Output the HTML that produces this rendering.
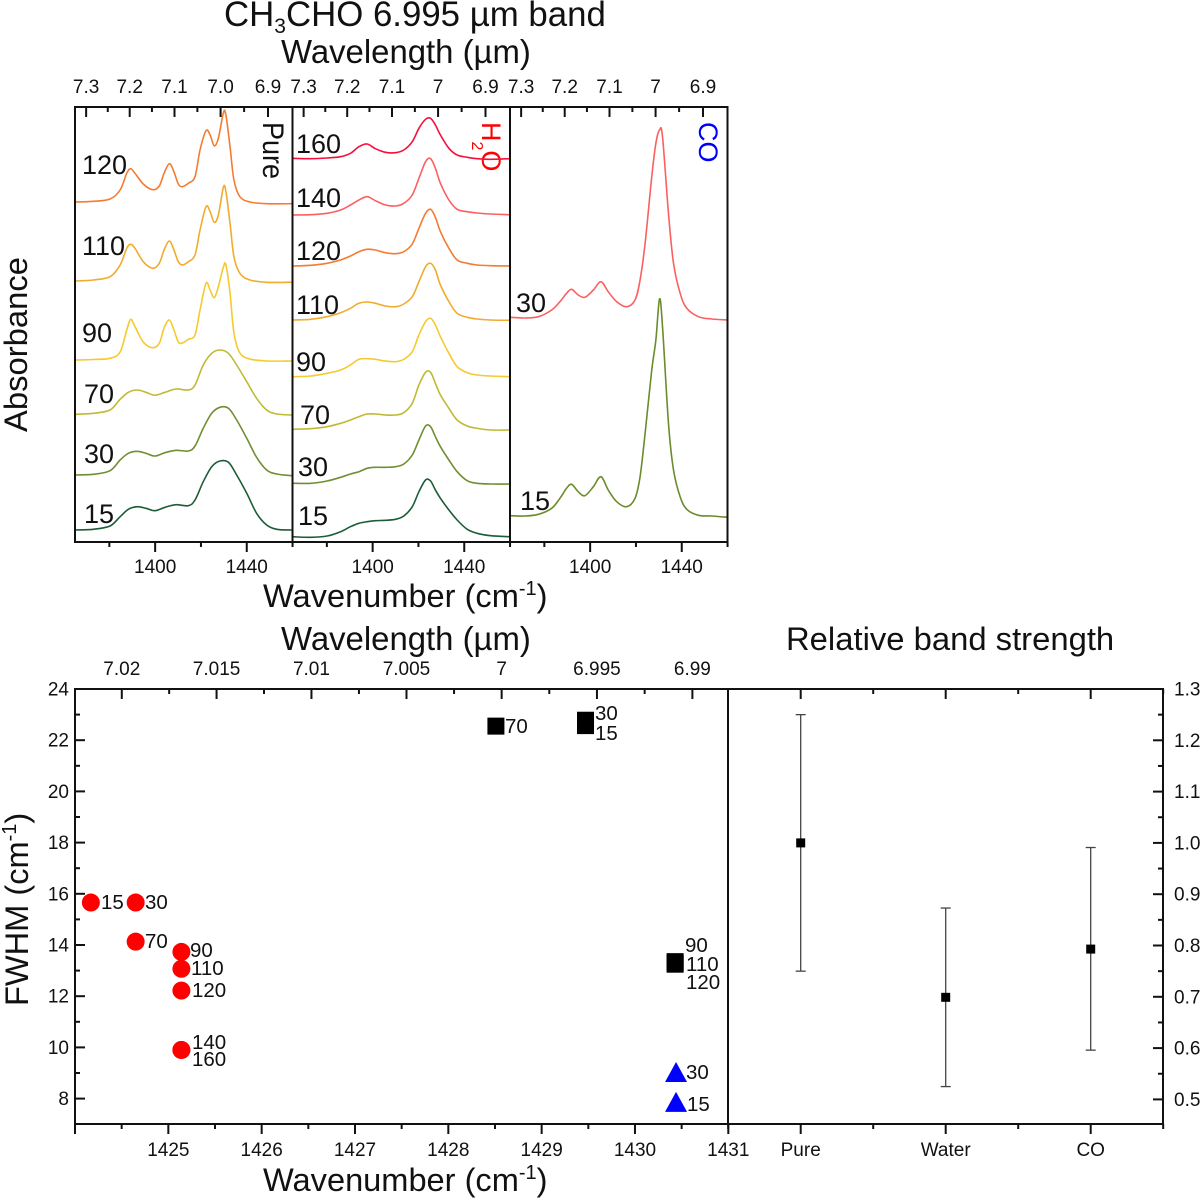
<!DOCTYPE html>
<html lang="en">
<head>
<meta charset="utf-8">
<title>CH3CHO 6.995 µm band</title>
<style>
html,body{margin:0;padding:0;background:#fff;}
svg{display:block;font-family:"Liberation Sans",sans-serif;fill:#111;}
text{fill:#111;}
</style>
</head>
<body>
<svg id="fig" xmlns="http://www.w3.org/2000/svg" width="1200" height="1198" viewBox="0 0 1200 1198">
  <rect x="0" y="0" width="1200" height="1198" fill="#fff"/>
  <text x="224" y="26" font-size="34.8">CH<tspan font-size="21" dy="7">3</tspan><tspan dy="-7">CHO 6.995 µm band</tspan></text>
  <text x="281" y="63" font-size="32.9">Wavelength (µm)</text>
  <text x="263" y="607" font-size="32.6">Wavenumber (cm<tspan font-size="20" dy="-12">-1</tspan><tspan dy="12">)</tspan></text>
  <text transform="translate(27,432) rotate(-90)" font-size="32.8">Absorbance</text>
  <text x="281" y="650" font-size="32.9">Wavelength (µm)</text>
  <text x="786" y="650" font-size="32.8">Relative band strength</text>
  <text x="263" y="1191" font-size="32.6">Wavenumber (cm<tspan font-size="20" dy="-12">-1</tspan><tspan dy="12">)</tspan></text>
  <text transform="translate(28,1006) rotate(-90)" font-size="32.6">FWHM (cm<tspan font-size="20" dy="-12">-1</tspan><tspan dy="12">)</tspan></text>

  <text transform="translate(263,122) rotate(90) scale(1,1.1)" font-size="27">Pure</text>
  <text transform="translate(482,122) rotate(90)" font-size="27" style="fill:#ff0000">H<tspan font-size="16" dy="10">2</tspan><tspan dy="-10">O</tspan></text>
  <text transform="translate(699,122) rotate(90)" font-size="27" style="fill:#0000ff">CO</text>

  <g font-size="27">
    <text x="82" y="174">120</text>
    <text x="82" y="255">110</text>
    <text x="82" y="342">90</text>
    <text x="84" y="403">70</text>
    <text x="84" y="463">30</text>
    <text x="84" y="523">15</text>
  </g>
  <g font-size="27">
    <text x="296" y="153">160</text>
    <text x="296" y="207">140</text>
    <text x="296" y="260">120</text>
    <text x="296" y="314">110</text>
    <text x="296" y="371">90</text>
    <text x="300" y="424">70</text>
    <text x="298" y="476">30</text>
    <text x="298" y="525">15</text>
  </g>
  <g font-size="27">
    <text x="516" y="312">30</text>
    <text x="520" y="510">15</text>
  </g>

  <g font-size="20.5">
    <text x="101" y="909">15</text>
    <text x="145" y="909">30</text>
    <text x="145" y="948">70</text>
    <text x="190" y="957">90</text>
    <text x="191" y="975">110</text>
    <text x="192" y="997">120</text>
    <text x="192" y="1049">140</text>
    <text x="192" y="1066">160</text>
    <text x="505" y="733">70</text>
    <text x="595" y="720">30</text>
    <text x="595" y="740">15</text>
    <text x="685" y="952">90</text>
    <text x="686" y="971">110</text>
    <text x="686" y="989">120</text>
    <text x="686" y="1079">30</text>
    <text x="687" y="1111">15</text>
  </g>
</svg>
<script>
// ---- spectra: shared wavenumber grids (cm-1) ----
const gridPureSharp = [1365,1373,1380.3,1384.7,1387.6,1389.3,1391.2,1394.8,1398.9,1401.8,1403.9,1406.2,1408.2,1410.1,1411.9,1414.5,1417.4,1419.6,1422.2,1424,1425.8,1427.6,1429.8,1430.9,1432.7,1434.4,1437,1441.4,1448.7,1459.6];
const gridPureBroad = [1365,1373,1380.3,1384.7,1388.3,1392.2,1396,1399.9,1404.3,1409.1,1414.5,1417.4,1421,1424.7,1428.3,1432,1435.6,1440,1444.3,1448.7,1453.1,1459.6];
const gridWater = [1365,1372.9,1380.1,1386,1390.3,1394,1397.6,1401.2,1405.6,1410,1413.6,1417.3,1420.2,1423.1,1425.3,1427.4,1429.6,1433.3,1436.9,1441.3,1445.6,1451.5,1459.8];
const gridCO = [1365,1371.6,1377.4,1383.2,1386.8,1389.7,1391.9,1394.8,1397.7,1401.4,1404.7,1407.9,1411.6,1415.9,1419.6,1421.8,1424,1426.9,1428.7,1430.3,1431.6,1434.2,1436.4,1439.3,1442.2,1447.3,1453.1,1460];

// ---- spectra: absorbance (arbitrary units, stacked with offset) ----
const pure120 = [3.40,3.407,3.43,3.52,3.687,3.733,3.687,3.58,3.523,3.56,3.687,3.783,3.703,3.58,3.553,3.587,3.653,3.92,4.113,4.07,3.963,4.037,4.293,4.27,3.953,3.62,3.453,3.40,3.383,3.383];
const pure110 = [2.61,2.62,2.653,2.77,2.937,2.977,2.937,2.803,2.737,2.787,2.92,3.01,2.92,2.803,2.77,2.803,2.87,3.12,3.353,3.303,3.197,3.27,3.547,3.503,3.187,2.853,2.687,2.62,2.597,2.597];
const pure90 = [1.82,1.825,1.837,1.90,2.12,2.227,2.153,2.00,1.943,1.987,2.14,2.22,2.12,2.0,1.99,2.027,2.07,2.32,2.587,2.52,2.443,2.553,2.75,2.77,2.49,2.09,1.89,1.83,1.81,1.81];
const pure70 = [1.277,1.287,1.32,1.427,1.497,1.52,1.497,1.467,1.497,1.53,1.52,1.57,1.77,1.887,1.92,1.887,1.77,1.603,1.437,1.32,1.28,1.27];
const pure30 = [0.67,0.677,0.713,0.82,0.887,0.907,0.887,0.86,0.893,0.917,0.91,0.96,1.137,1.287,1.347,1.337,1.22,1.037,0.847,0.72,0.68,0.663];
const pure15 = [0.12,0.127,0.16,0.253,0.327,0.353,0.337,0.313,0.347,0.373,0.363,0.42,0.603,0.753,0.81,0.797,0.67,0.487,0.287,0.17,0.127,0.12];

const water160 = [3.837,3.833,3.84,3.853,3.887,3.953,3.98,3.933,3.897,3.893,3.92,4.003,4.137,4.227,4.237,4.17,4.07,3.937,3.87,3.847,3.833,3.827,3.833];
const water140 = [3.27,3.273,3.287,3.32,3.37,3.42,3.453,3.413,3.37,3.36,3.387,3.47,3.637,3.803,3.833,3.737,3.587,3.42,3.327,3.303,3.29,3.28,3.273];
const water120 = [2.76,2.767,2.787,2.82,2.86,2.903,2.927,2.92,2.893,2.883,2.903,2.98,3.137,3.287,3.327,3.247,3.103,2.937,2.82,2.787,2.77,2.763,2.76];
const water110 = [2.22,2.227,2.253,2.293,2.337,2.387,2.40,2.387,2.36,2.353,2.38,2.453,2.603,2.753,2.787,2.72,2.57,2.403,2.287,2.247,2.23,2.22,2.217];
const water90 = [1.653,1.66,1.687,1.72,1.77,1.827,1.833,1.827,1.81,1.803,1.827,1.903,2.07,2.203,2.237,2.17,2.053,1.887,1.753,1.693,1.67,1.66,1.653];
const water70 = [1.127,1.133,1.153,1.187,1.22,1.253,1.28,1.28,1.27,1.27,1.293,1.387,1.57,1.697,1.697,1.587,1.47,1.337,1.22,1.16,1.137,1.12,1.12];
const water30 = [0.587,0.587,0.61,0.647,0.68,0.703,0.737,0.747,0.747,0.753,0.78,0.87,1.02,1.16,1.153,1.053,0.953,0.82,0.703,0.613,0.587,0.58,0.58];
const water15 = [0.053,0.047,0.06,0.103,0.153,0.187,0.203,0.213,0.217,0.227,0.26,0.353,0.503,0.62,0.61,0.52,0.437,0.32,0.22,0.127,0.087,0.063,0.053];

const co30 = [2.247,2.24,2.253,2.32,2.403,2.487,2.527,2.47,2.447,2.52,2.603,2.503,2.403,2.353,2.42,2.62,2.987,3.653,3.987,4.12,4.053,3.287,2.787,2.487,2.337,2.253,2.23,2.22];
const co15 = [0.263,0.26,0.277,0.337,0.437,0.537,0.577,0.503,0.463,0.553,0.653,0.52,0.403,0.353,0.437,0.653,1.087,1.72,2.02,2.43,2.153,1.187,0.72,0.453,0.327,0.267,0.26,0.247];

// ---- FWHM scatter ----
const redWavenumber = [1424.17,1424.65,1424.65,1425.14,1425.14,1425.14,1425.14,1425.14];
const redFwhm = [15.66,15.66,14.13,13.73,13.07,12.22,9.9,9.9];
const blackWavenumber = [1429.47,1429.47,1428.51,1430.43,1430.43,1430.43];
const blackFwhm = [22.78,22.57,22.55,13.35,13.3,13.25];
const blueWavenumber = [1430.44,1430.44];
const blueFwhm = [9.04,7.87];

// ---- relative band strength ----
const strengthCategories = ['Pure','Water','CO'];
const strengthValues = [1.0,0.699,0.793];
const strengthLow = [0.75,0.525,0.596];
const strengthHigh = [1.25,0.873,0.991];

// ---- tick labels ----
const specWavelengthMajor = [7.3,7.2,7.1,7.0,6.9];
const specWavelengthMinor = [7.25,7.15,7.05,6.95];
const specWavelengthLabelsPure = ['7.3','7.2','7.1','7.0','6.9'];
const specWavelengthLabelsOther = ['7.3','7.2','7.1','7','6.9'];
const specWavenumberMajor = [1400,1440];
const specWavenumberMinor = [1380,1420,1460];
const scatterWavelengthMajor = [7.02,7.015,7.01,7.005,7,6.995,6.99];
const scatterWavelengthLabels = ['7.02','7.015','7.01','7.005','7','6.995','6.99'];
const scatterWavelengthMinor = [7.0175,7.0125,7.0075,7.0025,6.9975,6.9925];
const scatterWavenumberTicks = [1424,1425,1426,1427,1428,1429,1430,1431];
const scatterWavenumberMinor = [1424.5,1425.5,1426.5,1427.5,1428.5,1429.5,1430.5];
const fwhmMajor = [8,10,12,14,16,18,20,22,24];
const fwhmMinor = [9,11,13,15,17,19,21,23];
const strengthMajor = [0.5,0.6,0.7,0.8,0.9,1.0,1.1,1.2,1.3];
const strengthMinor = [0.55,0.65,0.75,0.85,0.95,1.05,1.15,1.25];
const strengthTickLabels = ['0.5','0.6','0.7','0.8','0.9','1.0','1.1','1.2','1.3'];

// ---- axis functions ----
const svg = document.getElementById('fig');
const NS = 'http://www.w3.org/2000/svg';
const SPEC_TOP = 107, SPEC_BOTTOM = 542, SCAT_TOP = 689, SCAT_BOTTOM = 1124;
const specX = (panelLeft, wn) => panelLeft + (wn - 1365) * 2.29;
const specY = a => SPEC_BOTTOM - a * 100;
const scatX = wn => 75 + (wn - 1424) * 93.33;
const scatY = f => SCAT_TOP + (24 - f) * 25.6;
const strX = i => 800.7 + i * 145;
const strY = v => SCAT_TOP + (1.3 - v) * 513;

function addLine(x1, y1, x2, y2, width, color, name) {
  const el = document.createElementNS(NS, 'line');
  el.setAttribute('x1', x1);
  el.setAttribute('y1', y1);
  el.setAttribute('x2', x2);
  el.setAttribute('y2', y2);
  el.setAttribute('stroke', color);
  el.setAttribute('stroke-width', width);
  
  
  svg.appendChild(el);
}
function addText(x, y, str, anchor, name) {
  const el = document.createElementNS(NS, 'text');
  el.setAttribute('x', x);
  el.setAttribute('y', y);
  el.setAttribute('text-anchor', anchor);
  el.setAttribute('font-size', '19');
  el.textContent = str;
  
  
  svg.appendChild(el);
}
function addFrame(x, y, w, h, name) {
  const el = document.createElementNS(NS, 'rect');
  el.setAttribute('x', x);
  el.setAttribute('y', y);
  el.setAttribute('width', w);
  el.setAttribute('height', h);
  el.setAttribute('fill', 'none');
  el.setAttribute('stroke', '#111');
  el.setAttribute('stroke-width', '2');
  
  
  svg.appendChild(el);
}
function smoothPath(xs, ys) {
  let d = 'M' + xs[0].toFixed(2) + ' ' + ys[0].toFixed(2);
  for (let i = 0; i < xs.length - 1; i++) {
    const x0 = xs[Math.max(i - 1, 0)], y0 = ys[Math.max(i - 1, 0)];
    const x1 = xs[i], y1 = ys[i], x2 = xs[i + 1], y2 = ys[i + 1];
    const x3 = xs[Math.min(i + 2, xs.length - 1)], y3 = ys[Math.min(i + 2, ys.length - 1)];
    const c1x = x1 + (x2 - x0) / 6, c1y = y1 + (y2 - y0) / 6;
    const c2x = x2 - (x3 - x1) / 6, c2y = y2 - (y3 - y1) / 6;
    d += 'C' + c1x.toFixed(2) + ' ' + c1y.toFixed(2) + ' ' + c2x.toFixed(2) + ' ' + c2y.toFixed(2) + ' ' + x2.toFixed(2) + ' ' + y2.toFixed(2);
  }
  return d;
}
function addSpectrum(panelLeft, grid, values, color, name) {
  const el = document.createElementNS(NS, 'path');
  el.setAttribute('d', smoothPath(grid.map(w => specX(panelLeft, w)), values.map(specY)));
  el.setAttribute('fill', 'none');
  el.setAttribute('stroke', color);
  el.setAttribute('stroke-width', '1.6');
  el.setAttribute('stroke-linejoin', 'round');
  
  
  svg.appendChild(el);
}

// ---- spectra ----
const C = {c160:'#f5103c', c140:'#fb6060', c120:'#f47c32', c110:'#f2ab2e', c90:'#f4ca30', c70:'#bfba34', c30:'#708f30', c15:'#1d5c38'};
addSpectrum(75, gridPureSharp, pure120, C.c120, 'spectrum-pure-120');
addSpectrum(75, gridPureSharp, pure110, C.c110, 'spectrum-pure-110');
addSpectrum(75, gridPureSharp, pure90, C.c90, 'spectrum-pure-90');
addSpectrum(75, gridPureBroad, pure70, C.c70, 'spectrum-pure-70');
addSpectrum(75, gridPureBroad, pure30, C.c30, 'spectrum-pure-30');
addSpectrum(75, gridPureBroad, pure15, C.c15, 'spectrum-pure-15');
addSpectrum(292.5, gridWater, water160, C.c160, 'spectrum-water-160');
addSpectrum(292.5, gridWater, water140, C.c140, 'spectrum-water-140');
addSpectrum(292.5, gridWater, water120, C.c120, 'spectrum-water-120');
addSpectrum(292.5, gridWater, water110, C.c110, 'spectrum-water-110');
addSpectrum(292.5, gridWater, water90, C.c90, 'spectrum-water-90');
addSpectrum(292.5, gridWater, water70, C.c70, 'spectrum-water-70');
addSpectrum(292.5, gridWater, water30, C.c30, 'spectrum-water-30');
addSpectrum(292.5, gridWater, water15, C.c15, 'spectrum-water-15');
addSpectrum(510, gridCO, co30, C.c140, 'spectrum-co-30');
addSpectrum(510, gridCO, co15, '#6b8c2c', 'spectrum-co-15');

// ---- spectra panels: frames, ticks, tick labels ----
[75, 292.5, 510].forEach((left, p) => {
  const panel = ['pure','water','co'][p];
  const labels = p === 0 ? specWavelengthLabelsPure : specWavelengthLabelsOther;
  addFrame(left, SPEC_TOP, 217.5, SPEC_BOTTOM - SPEC_TOP, 'panel-frame-' + panel);
  specWavelengthMajor.forEach((lam, i) => {
    const x = specX(left, 1e4 / lam);
    addLine(x, SPEC_TOP, x, SPEC_TOP + 10, 2, '#111', 'top-tick-' + panel);
    addText(x, 93, labels[i], 'middle', 'top-tick-label-' + panel);
  });
  specWavelengthMinor.forEach(lam => {
    const x = specX(left, 1e4 / lam);
    addLine(x, SPEC_TOP, x, SPEC_TOP + 5, 2, '#111', 'top-minor-tick-' + panel);
  });
  specWavenumberMajor.forEach(w => {
    const x = specX(left, w);
    addLine(x, SPEC_BOTTOM, x, SPEC_BOTTOM + 10, 2, '#111', 'bottom-tick-' + panel);
    addText(x, 573, String(w), 'middle', 'bottom-tick-label-' + panel);
  });
  specWavenumberMinor.forEach(w => {
    const x = specX(left, w);
    addLine(x, SPEC_BOTTOM, x, SPEC_BOTTOM + 5, 2, '#111', 'bottom-minor-tick-' + panel);
  });
});

// ---- scatter axes ----
addFrame(75, SCAT_TOP, 653, SCAT_BOTTOM - SCAT_TOP, 'fwhm-plot-frame');
scatterWavelengthMajor.forEach((lam, i) => {
  const x = scatX(1e4 / lam);
  addLine(x, SCAT_TOP, x, SCAT_TOP + 10, 2, '#111', 'fwhm-top-tick');
  addText(x, 675, scatterWavelengthLabels[i], 'middle', 'fwhm-top-tick-label');
});
scatterWavelengthMinor.forEach(lam => {
  const x = scatX(1e4 / lam);
  addLine(x, SCAT_TOP, x, SCAT_TOP + 5, 2, '#111', 'fwhm-top-minor-tick');
});
scatterWavenumberTicks.forEach(w => {
  const x = scatX(w);
  addLine(x, SCAT_BOTTOM, x, SCAT_BOTTOM + 10, 2, '#111', 'fwhm-bottom-tick');
  if (w > 1424) {
    addText(x, 1156, String(w), 'middle', 'fwhm-bottom-tick-label');
  }
});
scatterWavenumberMinor.forEach(w => {
  const x = scatX(w);
  addLine(x, SCAT_BOTTOM, x, SCAT_BOTTOM + 5, 2, '#111', 'fwhm-bottom-minor-tick');
});
fwhmMajor.forEach(f => {
  const y = scatY(f);
  addLine(75, y, 85, y, 2, '#111', 'fwhm-y-tick');
  addText(69, y + 6.5, String(f), 'end', 'fwhm-y-tick-label');
});
fwhmMinor.forEach(f => {
  const y = scatY(f);
  addLine(75, y, 80, y, 2, '#111', 'fwhm-y-minor-tick');
});

// ---- strength axes ----
addFrame(728, SCAT_TOP, 435, SCAT_BOTTOM - SCAT_TOP, 'strength-plot-frame');
strengthCategories.forEach((c, i) => {
  const x = strX(i);
  addLine(x, SCAT_TOP, x, SCAT_TOP + 10, 2, '#111', 'strength-top-tick');
  addLine(x, SCAT_BOTTOM, x, SCAT_BOTTOM + 10, 2, '#111', 'strength-bottom-tick');
  addText(x, 1156, c, 'middle', 'strength-category-label');
});
[-0.5, 0.5, 1.5, 2.5].forEach(i => {
  const x = strX(i);
  if (i > -0.5) {
    addLine(x, SCAT_TOP, x, SCAT_TOP + 5, 2, '#111', 'strength-top-minor-tick');
  }
  addLine(x, SCAT_BOTTOM, x, SCAT_BOTTOM + 5, 2, '#111', 'strength-bottom-minor-tick');
});
strengthMajor.forEach((v, i) => {
  const y = strY(v);
  addLine(1163, y, 1153, y, 2, '#111', 'strength-y-tick');
  addText(1174, y + 6.5, strengthTickLabels[i], 'start', 'strength-y-tick-label');
});
strengthMinor.forEach(v => {
  const y = strY(v);
  addLine(1163, y, 1158, y, 2, '#111', 'strength-y-minor-tick');
});

// ---- strength marks ----
strengthCategories.forEach((c, i) => {
  const x = strX(i);
  addLine(x, strY(strengthLow[i]), x, strY(strengthHigh[i]), 1.3, '#444', 'error-bar-' + c.toLowerCase());
  addLine(x - 5, strY(strengthHigh[i]), x + 5, strY(strengthHigh[i]), 1.3, '#444', 'error-cap-high-' + c.toLowerCase());
  addLine(x - 5, strY(strengthLow[i]), x + 5, strY(strengthLow[i]), 1.3, '#444', 'error-cap-low-' + c.toLowerCase());
  const m = document.createElementNS(NS, 'rect');
  m.setAttribute('x', x - 4.5);
  m.setAttribute('y', strY(strengthValues[i]) - 4.5);
  m.setAttribute('width', 9);
  m.setAttribute('height', 9);
  m.setAttribute('fill', '#000');
  
  
  svg.appendChild(m);
});

// ---- scatter marks ----
redWavenumber.forEach((w, i) => {
  const el = document.createElementNS(NS, 'circle');
  el.setAttribute('cx', scatX(w));
  el.setAttribute('cy', scatY(redFwhm[i]));
  el.setAttribute('r', 9);
  el.setAttribute('fill', '#ff0000');
  
  
  svg.appendChild(el);
});
blackWavenumber.forEach((w, i) => {
  const el = document.createElementNS(NS, 'rect');
  el.setAttribute('x', scatX(w) - 8.5);
  el.setAttribute('y', scatY(blackFwhm[i]) - 8.5);
  el.setAttribute('width', 17);
  el.setAttribute('height', 17);
  el.setAttribute('fill', '#000');
  
  
  svg.appendChild(el);
});
blueWavenumber.forEach((w, i) => {
  const cx = scatX(w), cy = scatY(blueFwhm[i]);
  const el = document.createElementNS(NS, 'path');
  el.setAttribute('d', 'M' + cx + ' ' + (cy - 10) + 'L' + (cx + 11) + ' ' + (cy + 10) + 'L' + (cx - 11) + ' ' + (cy + 10) + 'Z');
  el.setAttribute('fill', '#0000ff');
  
  
  svg.appendChild(el);
});
</script>
</body>
</html>
